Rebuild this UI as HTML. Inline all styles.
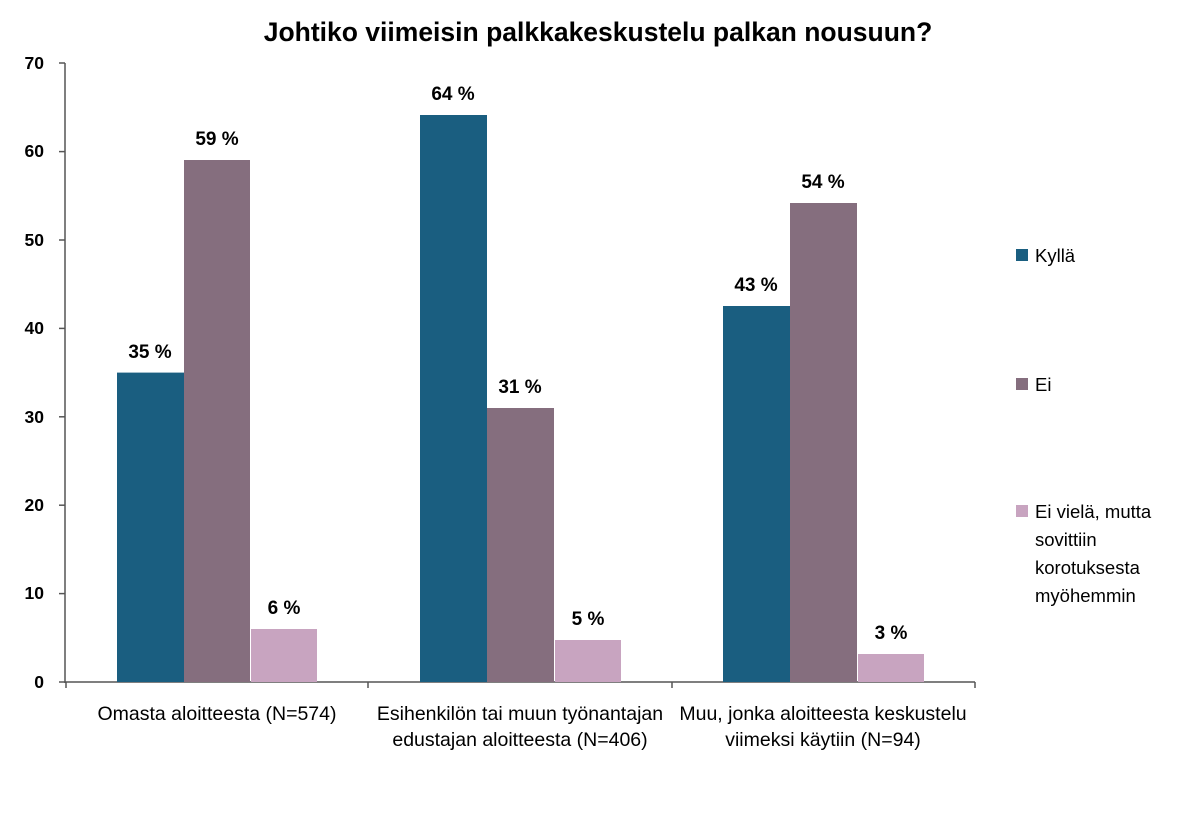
<!DOCTYPE html>
<html><head><meta charset="utf-8"><style>
body{margin:0;background:#fff;}
svg text{font-family:"Liberation Sans",sans-serif;}
</style></head><body>
<svg width="1200" height="813" xmlns="http://www.w3.org/2000/svg">
<rect width="1200" height="813" fill="#fff"/>
<text x="598" y="41" text-anchor="middle" font-size="26.5" font-weight="bold" fill="#000">Johtiko viimeisin palkkakeskustelu palkan nousuun?</text>
<g stroke="#555" stroke-width="1.5">
<line x1="65" y1="63" x2="65" y2="683"/>
<line x1="65" y1="682" x2="975" y2="682"/>
<line x1="59" y1="63" x2="65" y2="63"/>
<line x1="59" y1="151.6" x2="65" y2="151.6"/>
<line x1="59" y1="240" x2="65" y2="240"/>
<line x1="59" y1="328.4" x2="65" y2="328.4"/>
<line x1="59" y1="416.8" x2="65" y2="416.8"/>
<line x1="59" y1="505.2" x2="65" y2="505.2"/>
<line x1="59" y1="593.6" x2="65" y2="593.6"/>
<line x1="59" y1="682" x2="65" y2="682"/>
<line x1="66" y1="682" x2="66" y2="688"/>
<line x1="368" y1="682" x2="368" y2="688"/>
<line x1="672" y1="682" x2="672" y2="688"/>
<line x1="975" y1="682" x2="975" y2="688"/>
</g>
<g font-size="17.5" font-weight="bold" text-anchor="end" fill="#000">
<text x="44" y="69">70</text><text x="44" y="157">60</text><text x="44" y="246">50</text>
<text x="44" y="334">40</text><text x="44" y="423">30</text><text x="44" y="511">20</text>
<text x="44" y="599">10</text><text x="44" y="688">0</text>
</g>
<g>
<rect x="117" y="372.6" width="67" height="309.4" fill="#1a5e80"/>
<rect x="184" y="160" width="66" height="522" fill="#856e7e"/>
<rect x="251" y="629" width="66" height="53" fill="#c8a4c0"/>
<rect x="420" y="115" width="67" height="567" fill="#1a5e80"/>
<rect x="487" y="408" width="67" height="274" fill="#856e7e"/>
<rect x="555" y="640" width="66" height="42" fill="#c8a4c0"/>
<rect x="723" y="306" width="67" height="376" fill="#1a5e80"/>
<rect x="790" y="203" width="67" height="479" fill="#856e7e"/>
<rect x="858" y="654" width="66" height="28" fill="#c8a4c0"/>
</g>
<g font-size="19" font-weight="bold" text-anchor="middle" fill="#000">
<text x="150" y="358">35 %</text><text x="217" y="145">59 %</text><text x="284" y="614">6 %</text>
<text x="453" y="100">64 %</text><text x="520" y="393">31 %</text><text x="588" y="625">5 %</text>
<text x="756" y="291">43 %</text><text x="823" y="188">54 %</text><text x="891" y="639">3 %</text>
</g>
<g font-size="19.5" text-anchor="middle" fill="#000">
<text x="217" y="720">Omasta aloitteesta (N=574)</text>
<text x="520" y="720">Esihenkilön tai muun työnantajan</text>
<text x="520" y="746">edustajan aloitteesta (N=406)</text>
<text x="823" y="720">Muu, jonka aloitteesta keskustelu</text>
<text x="823" y="746">viimeksi käytiin (N=94)</text>
</g>
<rect x="1016" y="249" width="12" height="12" fill="#1a5e80"/>
<rect x="1016" y="378" width="12" height="12" fill="#856e7e"/>
<rect x="1016" y="505" width="12" height="12" fill="#c8a4c0"/>
<g font-size="18.5" fill="#000">
<text x="1035" y="262">Kyllä</text>
<text x="1035" y="391">Ei</text>
<text x="1035" y="518">Ei vielä, mutta</text>
<text x="1035" y="546">sovittiin</text>
<text x="1035" y="574">korotuksesta</text>
<text x="1035" y="602">myöhemmin</text>
</g>
</svg>
</body></html>
